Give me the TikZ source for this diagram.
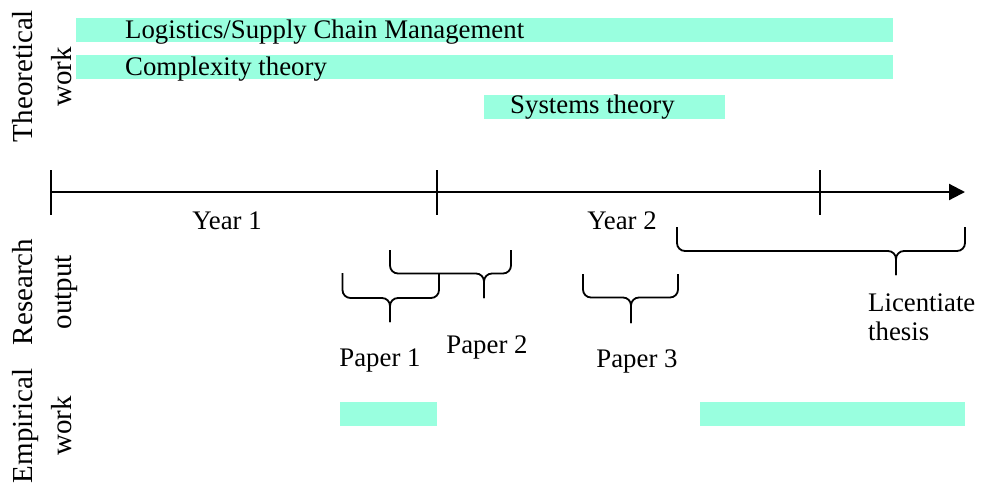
\documentclass[tikz,border=0pt]{standalone}
\usepackage{fontspec}
\setmainfont{Liberation Serif}
\usetikzlibrary{arrows.meta}
\definecolor{barcol}{RGB}{153,255,223}
\tikzset{
  bar/.style={fill=barcol, draw=none},
  lbl/.style={inner sep=0pt, font=\fontsize{26.8}{29}\selectfont},
  side/.style={inner sep=0pt, font=\fontsize{29}{38}\selectfont, rotate=90, anchor=base},
  brc/.style={line width=1.8pt, rounded corners=8pt},
  tick/.style={line width=1.3pt},
}
% brace: x-left, x-right, x-tip, y-top, y-flat, y-tip
\newcommand\cbrace[6]{%
  \draw[brc] (#1,#4) -- (#1,#5) -- (#3,#5) -- (#3,#6);
  \draw[brc] (#2,#4) -- (#2,#5) -- (#3,#5) -- (#3,#6);}
\begin{document}
\begin{tikzpicture}[x=1pt,y=-1pt]
\useasboundingbox (0,0) rectangle (988,483);
% theoretical bars
\fill[bar] (76,18) rectangle (893,42);
\fill[bar] (76,54.5) rectangle (893,79);
\fill[bar] (484,94.5) rectangle (725,118.5);
\node[lbl, anchor=base west] (t1) at (125,38) {Logistics/Supply Chain Management};
\node[lbl, anchor=base west] (t2) at (125,75) {Complexity theory};
\node[lbl, anchor=base west] (t3) at (510,113) {Systems theory};
% side labels
\node[side] (s1a) at (32,76) {Theoretical};
\node[side] (s1b) at (71,77) {work};
\node[side] (s2a) at (32,292) {Research};
\node[side] (s2b) at (71,292) {output};
\node[side] (s3a) at (32,426) {Empirical};
\node[side] (s3b) at (71,426) {work};
% axis
\coordinate (a0) at (51,192);
\coordinate (a1) at (965,192);
\draw[line width=2.2pt, -{Triangle[length=16pt,width=16pt]}] (a0) -- (a1);
\draw[tick] (51,170) -- (51,215);
\draw[tick] (437,170) -- (437,215);
\draw[tick] (820,170) -- (820,215);
\node[lbl, anchor=base] (y1) at (227,229) {Year 1};
\node[lbl, anchor=base] (y2) at (622,229) {Year 2};
% braces
\cbrace{342.5}{439}{390}{273}{298}{322}
\cbrace{390}{511}{484}{250}{273.5}{298}
\cbrace{583}{678}{631}{274}{297.5}{323}
\cbrace{677}{965}{896}{227}{251}{275}
\node[lbl, anchor=base] (p1) at (380,366) {Paper 1};
\node[lbl, anchor=base] (p2) at (487,353) {Paper 2};
\node[lbl, anchor=base] (p3) at (637,367) {Paper 3};
\node[lbl, anchor=base west, align=left] (lt) at (868,340) {Licentiate\\thesis};
% empirical bars
\fill[bar] (340,402) rectangle (437,426);
\fill[bar] (700,402) rectangle (965,426);
\end{tikzpicture}
\end{document}
